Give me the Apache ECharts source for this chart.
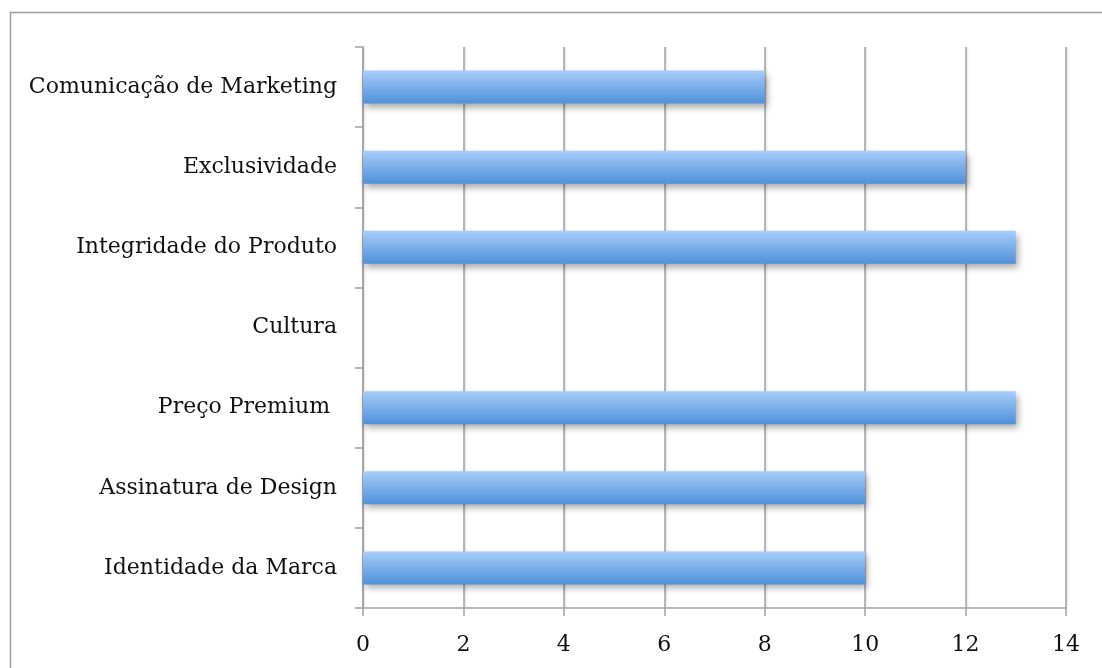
<!DOCTYPE html>
<html>
<head>
<meta charset="utf-8">
<script src="https://cdn.jsdelivr.net/npm/echarts@6/dist/echarts.min.js"></script>
<style>
  html, body { margin: 0; padding: 0; background: #ffffff; }
  #chart { width: 1102px; height: 668px; }
</style>
</head>
<body>
<div id="chart"></div>
<script>
// Categories listed bottom to top (category y axis starts at the bottom)
const categories = [
  'Identidade da Marca',
  'Assinatura de Design',
  'Preço Premium ',
  'Cultura',
  'Integridade do Produto',
  'Exclusividade',
  'Comunicação de Marketing'
];
const values = [10, 10, 13, 0, 13, 12, 8];
const xTicks = { min: 0, max: 14, interval: 2 };

const labelFont = 'DejaVu Serif';
const gridGray = '#a2a2a2';

const chart = echarts.init(document.getElementById('chart'), null, { renderer: 'canvas' });

chart.setOption({
  animation: false,
  backgroundColor: '#ffffff',
  grid: { left: 363, right: 36, top: 47, bottom: 60, containLabel: false },
  graphic: [{
    type: 'rect',
    shape: { x: 10.5, y: 12.5, width: 1200, height: 1000 },
    style: { fill: 'none', stroke: '#9c9c9c', lineWidth: 1.5 },
    silent: true,
    z: -10
  }],
  xAxis: {
    type: 'value',
    min: xTicks.min,
    max: xTicks.max,
    interval: xTicks.interval,
    axisLine: { show: true, lineStyle: { color: gridGray, width: 1.5 } },
    axisTick: { show: true, length: 8, lineStyle: { color: gridGray, width: 1.5 } },
    axisLabel: { color: '#111', fontFamily: labelFont, fontSize: 22, margin: 26 },
    splitLine: {
      show: true,
      lineStyle: { color: gridGray, width: 1.5, shadowColor: 'rgba(0,0,0,0.15)', shadowBlur: 2, shadowOffsetX: 1 }
    }
  },
  yAxis: {
    type: 'category',
    data: categories,
    axisLine: { show: true, lineStyle: { color: gridGray, width: 1.5 } },
    axisTick: { show: true, length: 8, alignWithLabel: false, lineStyle: { color: gridGray, width: 1.5 } },
    axisLabel: { color: '#111', fontFamily: labelFont, fontSize: 22, margin: 26 },
    splitLine: { show: false }
  },
  series: [{
    type: 'bar',
    data: values,
    barWidth: 33,
    itemStyle: {
      color: new echarts.graphic.LinearGradient(0, 0, 0, 1, [
        { offset: 0, color: '#a8cdfb' },
        { offset: 1, color: '#4f90d8' }
      ]),
      shadowColor: 'rgba(0,0,0,0.35)',
      shadowBlur: 7,
      shadowOffsetX: 2,
      shadowOffsetY: 4
    }
  }]
});
</script>
</body>
</html>
